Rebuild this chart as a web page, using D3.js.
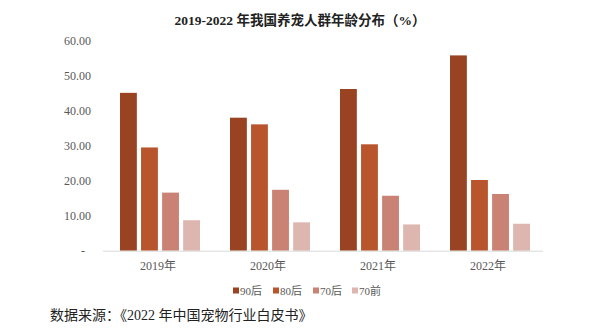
<!DOCTYPE html>
<html><head><meta charset="utf-8">
<script src="https://cdn.jsdelivr.net/npm/d3@7"></script>
<style>body{margin:0;background:#fff;}</style>
</head><body>
<svg id="c" width="600" height="330"></svg>
<script>
const categories = ["2019年","2020年","2021年","2022年"];
const seriesNames = ["90后","80后","70后","70前"];
const s90 = [45.1, 38.0, 46.2, 55.8];
const s80 = [29.5, 36.1, 30.4, 20.2];
const s70 = [16.6, 17.4, 15.7, 16.2];
const s70q = [8.7, 8.1, 7.5, 7.7];
const yTicks = [0,10,20,30,40,50,60];
const colors = ["#9A4322","#B9552C","#C98273","#DDB6AF"];
const series = [s90, s80, s70, s70q];

const svg = d3.select("#c");
const serif = "'Liberation Serif','Times New Roman','Noto Sans CJK SC',serif";
const x0 = d3.scaleBand().domain(categories).range([103,543]).paddingInner(0).paddingOuter(0);
const y = d3.scaleLinear().domain([0,60]).range([250.7,40.7]);
const x1 = d3.scaleBand().domain(seriesNames).range([17,97]).paddingInner(0.2).paddingOuter(0);

svg.append("text").attr("x",300).attr("y",25).attr("text-anchor","middle")
  .style("font-family",serif).style("font-weight","bold").style("font-size","13.5px").attr("fill","#222")
  .text("2019-2022 年我国养宠人群年龄分布（%）");

const yAxis = d3.axisLeft(y).tickValues(yTicks).tickSize(0).tickPadding(0)
  .tickFormat(d => d===0 ? "-" : d3.format(".2f")(d));
const ga = svg.append("g").attr("transform","translate(91,0)").call(yAxis);
ga.select(".domain").remove();
ga.selectAll("text").style("font-family",serif).style("font-size","12px").attr("fill","#595959").attr("dy","0.35em");
ga.selectAll(".tick").filter(d=>d===0).select("text").attr("dx","-6");

const g = svg.append("g");
categories.forEach((c,i)=>{
  seriesNames.forEach((s,j)=>{
    g.append("rect").attr("x", x0(c)+x1(s)).attr("width", x1.bandwidth())
      .attr("y", y(series[j][i])).attr("height", y(0)-y(series[j][i])).attr("fill", colors[j]);
  });
});
svg.append("line").attr("x1",103).attr("x2",543).attr("y1",y(0)+0.5).attr("y2",y(0)+0.5).attr("stroke","#D9D9D9").attr("stroke-width",1);

const xAxis = d3.axisBottom(x0).tickSize(0).tickPadding(0);
const gx = svg.append("g").attr("transform",`translate(0,${y(0)})`).call(xAxis);
gx.select(".domain").remove();
gx.selectAll("text").style("font-family",serif).style("font-size","12px").attr("fill","#595959").attr("dy","0").attr("y",19);

const lg = svg.append("g");
const legX = [233,273,313,352];
seriesNames.forEach((s,j)=>{
  lg.append("rect").attr("x",legX[j]).attr("y",287.5).attr("width",6).attr("height",6).attr("fill",colors[j]);
  lg.append("text").attr("x",legX[j]+7).attr("y",295).style("font-family",serif).style("font-size","11px").attr("fill","#595959").text(s);
});

svg.append("text").attr("x",50).attr("y",320).style("font-family",serif).style("font-size","14px").attr("fill","#222")
  .text("数据来源：《2022 年中国宠物行业白皮书》");
</script>
</body></html>
